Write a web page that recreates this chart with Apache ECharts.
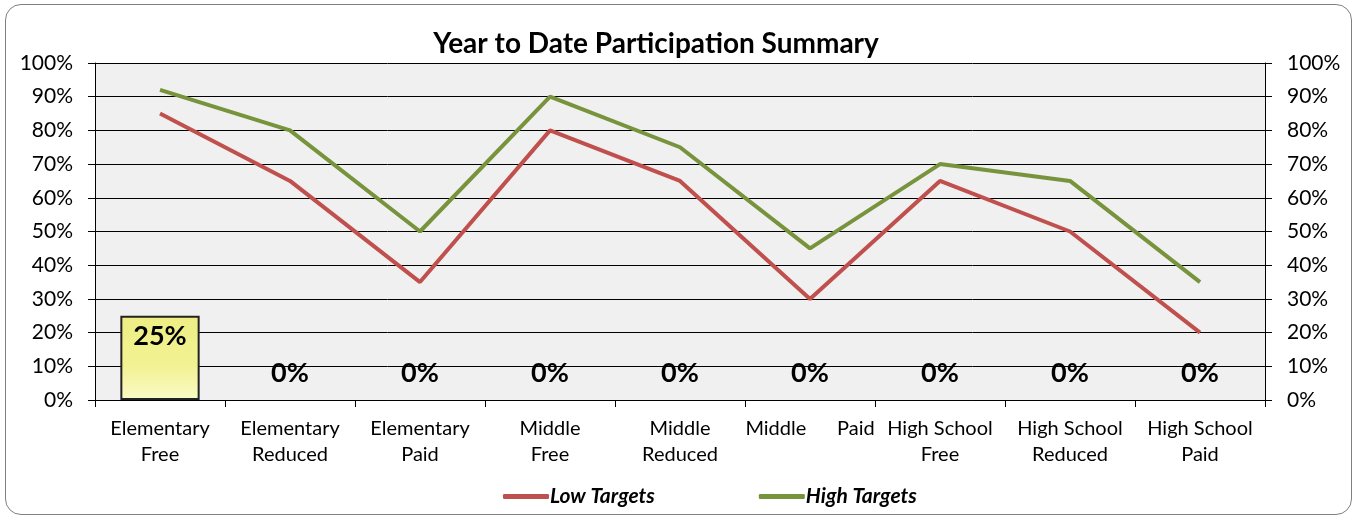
<!DOCTYPE html>
<html><head><meta charset="utf-8">
<script src="https://cdn.jsdelivr.net/npm/echarts@6/dist/echarts.min.js"></script>
<style>html,body{margin:0;padding:0;background:#fff}#c{width:1357px;height:519px}
#frame{position:absolute;left:5px;top:4px;width:1345px;height:509px;border:1.5px solid #7f7f7f;border-radius:16px;pointer-events:none}</style>
</head><body><div id="c"></div><div id="frame"></div>
<script>
const categories = ['Elementary\nFree','Elementary\nReduced','Elementary\nPaid','Middle\nFree','Middle\nReduced','Middle      Paid','High School\nFree','High School\nReduced','High School\nPaid'];
const actual = [25,0,0,0,0,0,0,0,0];
const lowTargets = [85,65,35,80,65,30,65,50,20];
const highTargets = [92,80,50,90,75,45,70,65,35];
const yTicks = [0,10,20,30,40,50,60,70,80,90,100];

const font = 'Lato, "Open Sans", sans-serif';
const chart = echarts.init(document.getElementById('c'));
const barData = actual.map(v => ({
  value: v,
  itemStyle: v === 0 ? {borderWidth: 0, color: 'rgba(0,0,0,0)'} : {},
  label: v === 0 ? {position: 'top', distance: 13} : {position: 'insideTop', distance: 7}
}));
const yAxisBase = {
  type: 'value', min: 0, max: 100, interval: 10,
  axisLine: {show: true, lineStyle: {color: '#000', width: 1}},
  axisTick: {show: true, length: 7, lineStyle: {color: '#000'}},
  axisLabel: {formatter: v => v + '%', fontFamily: font, fontSize: 21, color: '#000', margin: 22},
};
chart.setOption({
  animation: false,
  backgroundColor: '#fff',
  title: {text: 'Year to Date Participation Summary', left: 651, top: 25, textAlign: 'center',
    textStyle: {fontFamily: font, fontSize: 28, fontWeight: 'bold', color: '#000'}},
  grid: {left: 95, right: 92, top: 63, bottom: 119, show: true, backgroundColor: '#f0f0f0', borderWidth: 0},
  legend: {
    data: ['Low Targets', 'High Targets'], bottom: 7, left: 498, itemGap: 104,
    icon: 'roundRect', itemWidth: 46, itemHeight: 5,
    textStyle: {fontFamily: font, fontSize: 21, fontWeight: 'bold', fontStyle: 'italic', color: '#000', padding: [0,0,0,-4]}
  },
  xAxis: {
    type: 'category', data: categories, boundaryGap: true,
    axisLine: {show: true, lineStyle: {color: '#000'}},
    axisTick: {show: true, length: 7, interval: 0, lineStyle: {color: '#000'}},
    axisLabel: {interval: 0, fontFamily: font, fontSize: 20, color: '#000', lineHeight: 26, margin: 16}
  },
  yAxis: [
    Object.assign({}, yAxisBase, {position: 'left', splitLine: {show: true, lineStyle: {color: '#000', width: 1}}}),
    Object.assign({}, yAxisBase, {position: 'right', splitLine: {show: false}})
  ],
  series: [
    {
      name: 'Actual', type: 'bar', data: barData, barWidth: '61%', z: 2,
      itemStyle: {
        color: new echarts.graphic.LinearGradient(0, 0, 0, 1, [
          {offset: 0, color: '#eeee84'}, {offset: 0.6, color: '#f2f294'}, {offset: 1, color: '#fafac8'}
        ]),
        borderColor: '#222', borderWidth: 2
      },
      label: {show: true, formatter: p => p.value + '%', fontFamily: font, fontSize: 27, fontWeight: 'bold', color: '#000'}
    },
    {name: 'Low Targets', type: 'line', data: lowTargets, symbol: 'none', z: 3,
      lineStyle: {color: '#c0504d', width: 4}, itemStyle: {color: '#c0504d'}},
    {name: 'High Targets', type: 'line', data: highTargets, symbol: 'none', z: 3,
      lineStyle: {color: '#77933c', width: 4}, itemStyle: {color: '#77933c'}}
  ]
});
</script></body></html>
